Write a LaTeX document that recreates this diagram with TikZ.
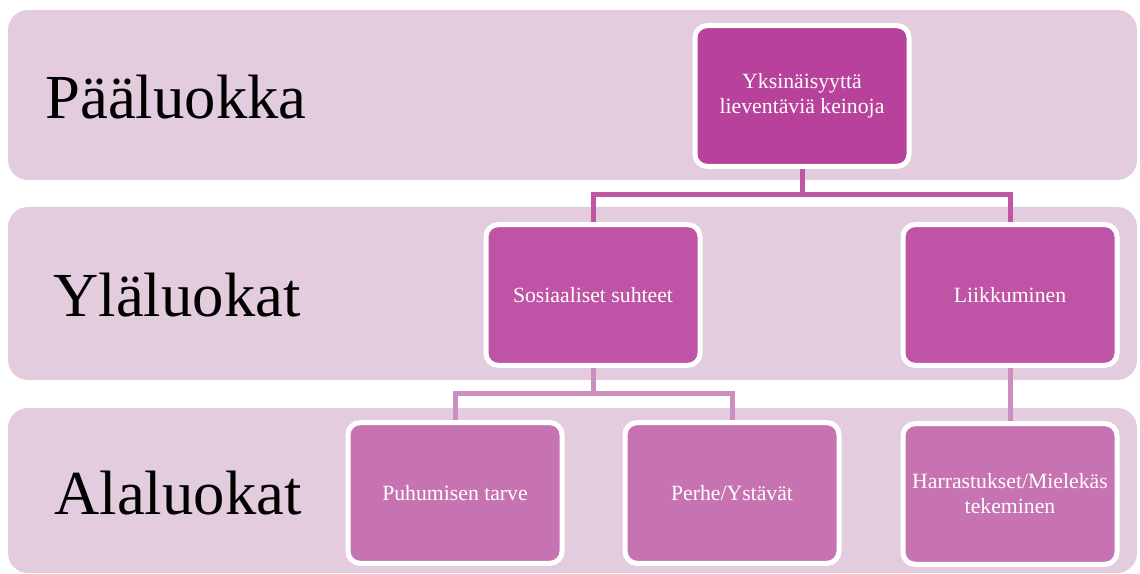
\documentclass[tikz,border=0pt]{standalone}
\usepackage{fontspec}
\setmainfont{Liberation Serif}
\usetikzlibrary{calc}

\definecolor{bandpink}{HTML}{E3CCDE}
\definecolor{topviolet}{HTML}{B8429B}
\definecolor{midviolet}{HTML}{BF53A5}
\definecolor{lowviolet}{HTML}{C873B1}
\definecolor{linkdark}{HTML}{BE56A3}
\definecolor{linklight}{HTML}{CC8DBF}

\begin{document}
\begin{tikzpicture}[x=0.75pt, y=-0.75pt,
    band/.style={fill=bandpink, rounded corners=15pt},
    level label/.style={font=\fontsize{47}{50}\selectfont, color=black},
    box/.style={draw=white, line width=3.75pt, rounded corners=9pt,
    minimum width=160.5pt, minimum height=105.5pt, align=center,
    text=white, font=\fontsize{16.3}{18.75}\selectfont},
    link/.style={line width=3.75pt}]
    \useasboundingbox (0,0) rectangle (1140,574);

    % bands
    \fill[band] (8,10) rectangle (1137,180);
    \fill[band] (8,207) rectangle (1137,380);
    \fill[band] (8,408) rectangle (1137,573);

    \node[level label] (paa) at (176,97) {Pääluokka};
    \node[level label] (yla) at (177,295) {Yläluokat};
    \node[level label] (ala) at (178,493) {Alaluokat};

    % connectors
    \coordinate (split1) at (802,195);
    \coordinate (split2) at (593,393);

    \node[box, fill=topviolet] (main) at (802,96) {Yksinäisyyttä\\lieventäviä keinoja};
    \node[box, fill=midviolet] (sos) at (593,295) {Sosiaaliset suhteet};
    \node[box, fill=midviolet] (liik) at (1010,295) {Liikkuminen};
    \node[box, fill=lowviolet] (puh) at (455,493) {Puhumisen tarve};
    \node[box, fill=lowviolet] (perhe) at (732,493) {Perhe/Ystävät};
    \node[box, fill=lowviolet] (harr) at (1010,494) {Harrastukset/Mielekäs\\tekeminen};

    \draw[link, linkdark] (main.south) -- (split1);
    \draw[link, linkdark] (sos.north) |- (split1) -| (liik.north);
    \draw[link, linklight] (sos.south) -- (split2);
    \draw[link, linklight] (puh.north) |- (split2) -| (perhe.north);
    \draw[link, linklight] (liik.south) -- (harr.north);

\end{tikzpicture}
\end{document}
